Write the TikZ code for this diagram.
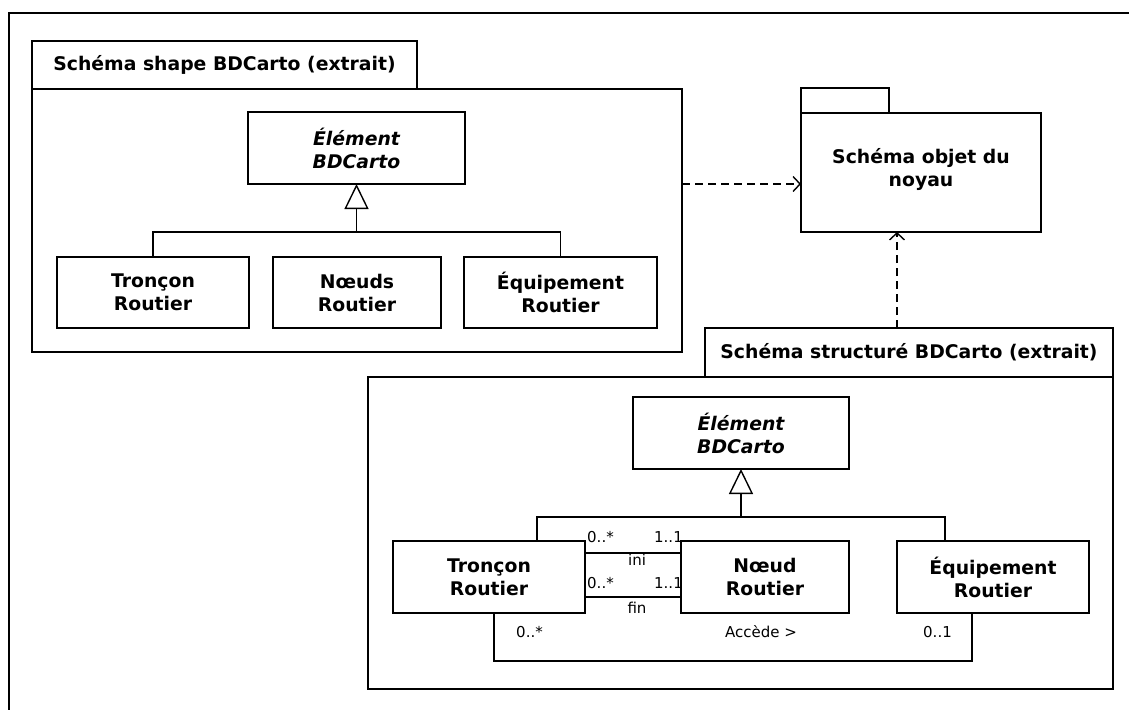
\documentclass[tikz,border=0pt]{standalone}
\usepackage{fontspec}
\setmainfont{DejaVu Sans}
\usetikzlibrary{arrows.meta,calc}
\begin{document}
\begin{tikzpicture}[x=1pt,y=-1pt,
  ln/.style={line width=1.4pt},
  box/.style={draw,line width=1.4pt,inner sep=0pt,outer sep=0pt,align=center},
  cls/.style={box,font=\fontsize{18.8}{23}\selectfont\bfseries},
  abs/.style={box,font=\fontsize{18.8}{23}\selectfont\bfseries\itshape},
  ttl/.style={box,font=\fontsize{18.8}{23}\selectfont\bfseries},
  lbl/.style={inner sep=0pt,font=\fontsize{15}{18}\selectfont},
  gen/.style={line width=1.4pt,-{Triangle[open,length=25pt,width=24pt,line width=1.4pt]}},
  dep/.style={line width=1.4pt,dash pattern=on 8pt off 5pt,-{Straight Barb[length=7pt,width=15pt,line width=1.4pt]}}
]
\useasboundingbox (0,0) rectangle (1129,709);
% outer frame (only top and left visible)
\draw[line width=2.2pt] (9,720) -- (9,13) -- (1140,13);

% ---------- package 1 ----------
\node[ttl,minimum width=385,minimum height=48] (p1tab) at (224.5,65) {Schéma shape BDCarto (extrait)};
\node[box,minimum width=650,minimum height=263] (p1body) at (357,220.5) {};
\node[abs,minimum width=217,minimum height=72] (el1) at (356.5,148) {Élément\\BDCarto};
\node[cls,minimum width=192,minimum height=71] (tr1) at (153,292.5) {Tronçon\\Routier};
\node[cls,minimum width=168,minimum height=71] (no1) at (357,292.5) {Nœuds\\Routier};
\node[cls,minimum width=193,minimum height=71] (eq1) at (560.5,292.5) {Équipement\\Routier};
\coordinate (j1) at (356.5,232);
\draw[gen] (j1) -- (el1.south);
\draw[ln] (tr1.north) |- (j1);
\draw[ln] (eq1.north) |- (j1);

% ---------- package objet ----------
\node[box,minimum width=88,minimum height=25] (obtab) at (845,100.5) {};
\node[box,minimum width=240,minimum height=119] (obbody) at (921,172.5) {};
\node[inner sep=0pt,align=center,font=\fontsize{18.8}{23}\selectfont\bfseries] (obtxt) at (921,170) {Schéma objet du\\noyau};

% ---------- package 2 ----------
\node[ttl,minimum width=408,minimum height=49] (p2tab) at (909,352.5) {Schéma structuré BDCarto (extrait)};
\node[box,minimum width=745,minimum height=312] (p2body) at (740.5,533) {};
\node[abs,minimum width=216,minimum height=72] (el2) at (741,433) {Élément\\BDCarto};
\node[cls,minimum width=192,minimum height=72] (tr2) at (489,577) {Tronçon\\Routier};
\node[cls,minimum width=168,minimum height=72] (no2) at (765,577) {Nœud\\Routier};
\node[cls,minimum width=192,minimum height=72] (eq2) at (993,577) {Équipement\\Routier};
\coordinate (j2) at (741,517);
\draw[gen] (j2) -- (el2.south);
\draw[ln] ($(tr2.north)+(48,0)$) |- (j2);
\draw[ln] ($(eq2.north)+(-48,0)$) |- (j2);

% dependencies
\draw[dep] (p1body.east |- el1.south) -- (obbody.west |- el1.south);
\draw[dep] (eq2.west |- p2tab.north) -- (eq2.west |- obbody.south);

% associations
\coordinate (a1) at ($(tr2.east)+(0,-24)$);
\coordinate (a2) at ($(tr2.east)+(0,20)$);
\draw[ln] (a1) -- (no2.west |- a1);
\draw[ln] (a2) -- (no2.west |- a2);
\node[lbl,anchor=west] (m1) at (587,537) {0..*};
\node[lbl,anchor=east] (m2) at (683,537) {1..1};
\node[lbl] (ini) at (637,560) {ini};
\node[lbl,anchor=west] (m3) at (587,583) {0..*};
\node[lbl,anchor=east] (m4) at (683,583) {1..1};
\node[lbl] (fin) at (637,608) {fin};

\coordinate (b1) at (494,661);
\coordinate (b2) at (972,661);
\draw[ln] (tr2.south -| b1) -- (b1) -- (b2) -- (eq2.south -| b2);
\node[lbl] (m5) at (529.5,632) {0..*};
\node[lbl] (acc) at (761,632) {Accède >};
\node[lbl] (m6) at (937.5,632) {0..1};
\end{tikzpicture}
\end{document}
